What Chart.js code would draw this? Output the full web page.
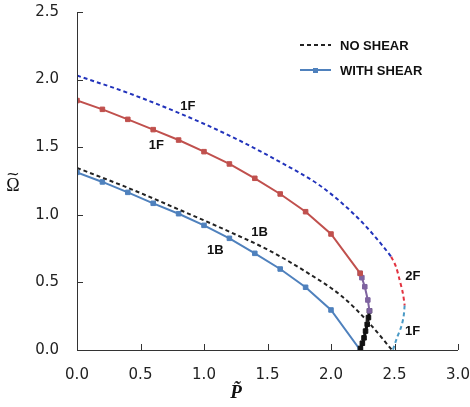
<!DOCTYPE html>
<html>
<head>
<meta charset="utf-8">
<script src="https://cdn.jsdelivr.net/npm/chart.js@4/dist/chart.umd.min.js"></script>
<style>
  html, body { margin: 0; padding: 0; background: #ffffff; }
  #wrap { width: 470px; height: 407px; }
</style>
</head>
<body>
<div id="wrap"><canvas id="c" width="470" height="407"></canvas></div>
<script>
// ---------- DATA ----------
const xTicks = [0.0, 0.5, 1.0, 1.5, 2.0, 2.5, 3.0];
const yTicks = [0.0, 0.5, 1.0, 1.5, 2.0, 2.5];

// No shear, mode 1F (upper, dashed dark blue)
const noShear1F_P = [0, 0.4, 0.8, 1.2, 1.6, 1.9, 2.1, 2.25, 2.41, 2.474];
const noShear1F_W = [2.03, 1.902, 1.754, 1.586, 1.39, 1.225, 1.075, 0.94, 0.767, 0.69];
// No shear, mode 2F (dashed red)
const noShear2F_P = [2.474, 2.51, 2.54, 2.566, 2.58];
const noShear2F_W = [0.69, 0.62, 0.52, 0.42, 0.33];
// No shear, mode 1F (lower branch, dashed light blue)
const noShear1Fb_P = [2.58, 2.572, 2.553, 2.518, 2.487];
const noShear1Fb_W = [0.33, 0.25, 0.172, 0.086, 0.0];
// No shear, mode 1B (dashed black)
const noShear1B_P = [0, 0.4, 0.8, 1.2, 1.516, 1.8, 2.09, 2.3, 2.48];
const noShear1B_W = [1.347, 1.20, 1.04, 0.875, 0.735, 0.58, 0.394, 0.2, 0.0];

// With shear, mode 1F (red, markers)
const shear1F_P = [0, 0.2, 0.4, 0.6, 0.8, 1.0, 1.2, 1.4, 1.6, 1.8, 2.0, 2.23];
const shear1F_W = [1.845, 1.78, 1.706, 1.63, 1.553, 1.467, 1.376, 1.27, 1.154, 1.023, 0.858, 0.567];
// With shear, transition branch (purple, markers)
const shearMid_P = [2.23, 2.243, 2.266, 2.29, 2.303];
const shearMid_W = [0.567, 0.535, 0.468, 0.37, 0.29];
// With shear, lower branch (black, dense markers)
const shearLow_P = [2.303, 2.295, 2.285, 2.272, 2.26, 2.247, 2.232];
const shearLow_W = [0.29, 0.24, 0.19, 0.14, 0.09, 0.05, 0.012];
// With shear, mode 1B (blue, markers)
const shear1B_P = [0, 0.2, 0.4, 0.6, 0.8, 1.0, 1.2, 1.4, 1.6, 1.8, 2.0, 2.23];
const shear1B_W = [1.314, 1.243, 1.166, 1.085, 1.008, 0.922, 0.826, 0.715, 0.599, 0.464, 0.296, 0.0];

// Curve labels (text, P, Omega)
const curveLabelText = ['1F', '1F', '1B', '1B', '2F', '1F'];
const curveLabelP    = [0.872, 0.624, 1.437, 1.09, 2.644, 2.642];
const curveLabelW    = [1.80, 1.516, 0.87, 0.74, 0.542, 0.135];

const legendText = ['NO SHEAR', 'WITH SHEAR'];
const xTitle = 'P\u0303';
const yTitleBase = '\u03A9';
const yTitleAccent = '~';

// ---------- build ----------
function pts(P, W) { return P.map((p, i) => ({ x: p, y: W[i] })); }

const dashed = (data, color, mono) => ({
  data, borderColor: color, backgroundColor: color, borderWidth: 2,
  borderDash: [4, 3], pointRadius: 0, showLine: true, fill: false,
  tension: mono ? 0.4 : 0.3,
  cubicInterpolationMode: mono ? 'monotone' : 'default'
});
const marked = (data, color, width, r) => ({
  data, borderColor: color, backgroundColor: color, borderWidth: width,
  pointStyle: 'rect', pointRadius: r, pointBorderWidth: 1, pointBorderColor: color,
  pointBackgroundColor: color, showLine: true, tension: 0, fill: false
});

const datasets = [
  dashed(pts(noShear1F_P, noShear1F_W), '#2233BB', true),
  dashed(pts(noShear2F_P, noShear2F_W), '#E23340', false),
  dashed(pts(noShear1Fb_P, noShear1Fb_W), '#4A9AC6', false),
  dashed(pts(noShear1B_P, noShear1B_W), '#222222', true),
  marked(pts(shear1F_P, shear1F_W), '#C0504D', 2, 3.2),
  marked(pts(shearMid_P, shearMid_W), '#7F64A0', 2, 3.2),
  marked(pts(shearLow_P, shearLow_W), '#111111', 3, 3.2),
  marked(pts(shear1B_P, shear1B_W), '#4F81BD', 2, 3.2)
];

const decor = {
  id: 'decor',
  afterDraw(chart) {
    const ctx = chart.ctx;
    const xs = chart.scales.x, ys = chart.scales.y;
    const a = chart.chartArea;
    ctx.save();
    // axes lines
    ctx.strokeStyle = '#333333';
    ctx.lineWidth = 1;
    ctx.beginPath();
    ctx.moveTo(Math.round(a.left) + 0.5, a.top);
    ctx.lineTo(Math.round(a.left) + 0.5, Math.round(a.bottom) + 0.5);
    ctx.lineTo(a.right, Math.round(a.bottom) + 0.5);
    ctx.stroke();
    // inward ticks
    ctx.beginPath();
    xTicks.forEach(v => {
      const px = Math.round(xs.getPixelForValue(v)) + 0.5;
      ctx.moveTo(px, Math.round(a.bottom));
      ctx.lineTo(px, Math.round(a.bottom) - 6);
    });
    yTicks.forEach(v => {
      const py = Math.round(ys.getPixelForValue(v)) + 0.5;
      ctx.moveTo(Math.round(a.left), py);
      ctx.lineTo(Math.round(a.left) + 6, py);
    });
    ctx.stroke();

    // curve labels
    ctx.fillStyle = '#111111';
    ctx.font = 'bold 13px "Liberation Sans", Arial, sans-serif';
    ctx.textAlign = 'center';
    ctx.textBaseline = 'middle';
    curveLabelText.forEach((t, i) => {
      ctx.fillText(t, xs.getPixelForValue(curveLabelP[i]), ys.getPixelForValue(curveLabelW[i]));
    });

    // legend
    ctx.textAlign = 'left';
    ctx.lineWidth = 2;
    ctx.strokeStyle = '#222222';
    ctx.setLineDash([4, 3]);
    ctx.beginPath(); ctx.moveTo(300, 45); ctx.lineTo(331, 45); ctx.stroke();
    ctx.setLineDash([]);
    ctx.strokeStyle = '#4F81BD';
    ctx.beginPath(); ctx.moveTo(300, 70); ctx.lineTo(331, 70); ctx.stroke();
    ctx.fillStyle = '#4F81BD';
    ctx.fillRect(313, 68, 5, 5);
    ctx.fillStyle = '#111111';
    ctx.fillText(legendText[0], 340, 46);
    ctx.fillText(legendText[1], 340, 71);

    // axis titles
    ctx.textAlign = 'center';
    ctx.font = '18px "Liberation Serif", "Times New Roman", serif';
    ctx.fillText(yTitleBase, 13, 186);
    ctx.save();
    ctx.translate(13, 175);
    ctx.scale(1.1, 0.9);
    ctx.font = '15px "DejaVu Sans", sans-serif';
    ctx.fillText(yTitleAccent, 0, 0);
    ctx.restore();
    ctx.font = 'italic bold 19px "Liberation Serif", "Times New Roman", serif';
    ctx.fillText(xTitle, 236, 393);
    ctx.restore();
  }
};

new Chart(document.getElementById('c'), {
  type: 'scatter',
  data: { datasets },
  options: {
    responsive: false,
    devicePixelRatio: 1,
    animation: false,
    layout: { padding: 0 },
    plugins: { legend: { display: false }, tooltip: { enabled: false } },
    scales: {
      x: {
        type: 'linear', min: 0, max: 3,
        afterFit(s) { s.height = 57; s.paddingLeft = 0; s.paddingRight = 12; },
        afterBuildTicks(s) { s.ticks = xTicks.map(v => ({ value: v })); },
        grid: { display: false, drawTicks: false },
        border: { display: false },
        ticks: {
          padding: 16, color: '#222222',
          font: { family: 'DejaVu Sans', size: 15 },
          callback: v => Number(v).toFixed(1)
        }
      },
      y: {
        type: 'linear', min: 0, max: 2.5,
        afterFit(s) { s.width = 77; s.paddingTop = 12; s.paddingBottom = 0; },
        afterBuildTicks(s) { s.ticks = yTicks.map(v => ({ value: v })); },
        grid: { display: false, drawTicks: false },
        border: { display: false },
        ticks: {
          padding: 18, color: '#222222',
          font: { family: 'DejaVu Sans', size: 15 },
          callback: v => Number(v).toFixed(1)
        }
      }
    }
  },
  plugins: [decor]
});
</script>
</body>
</html>
